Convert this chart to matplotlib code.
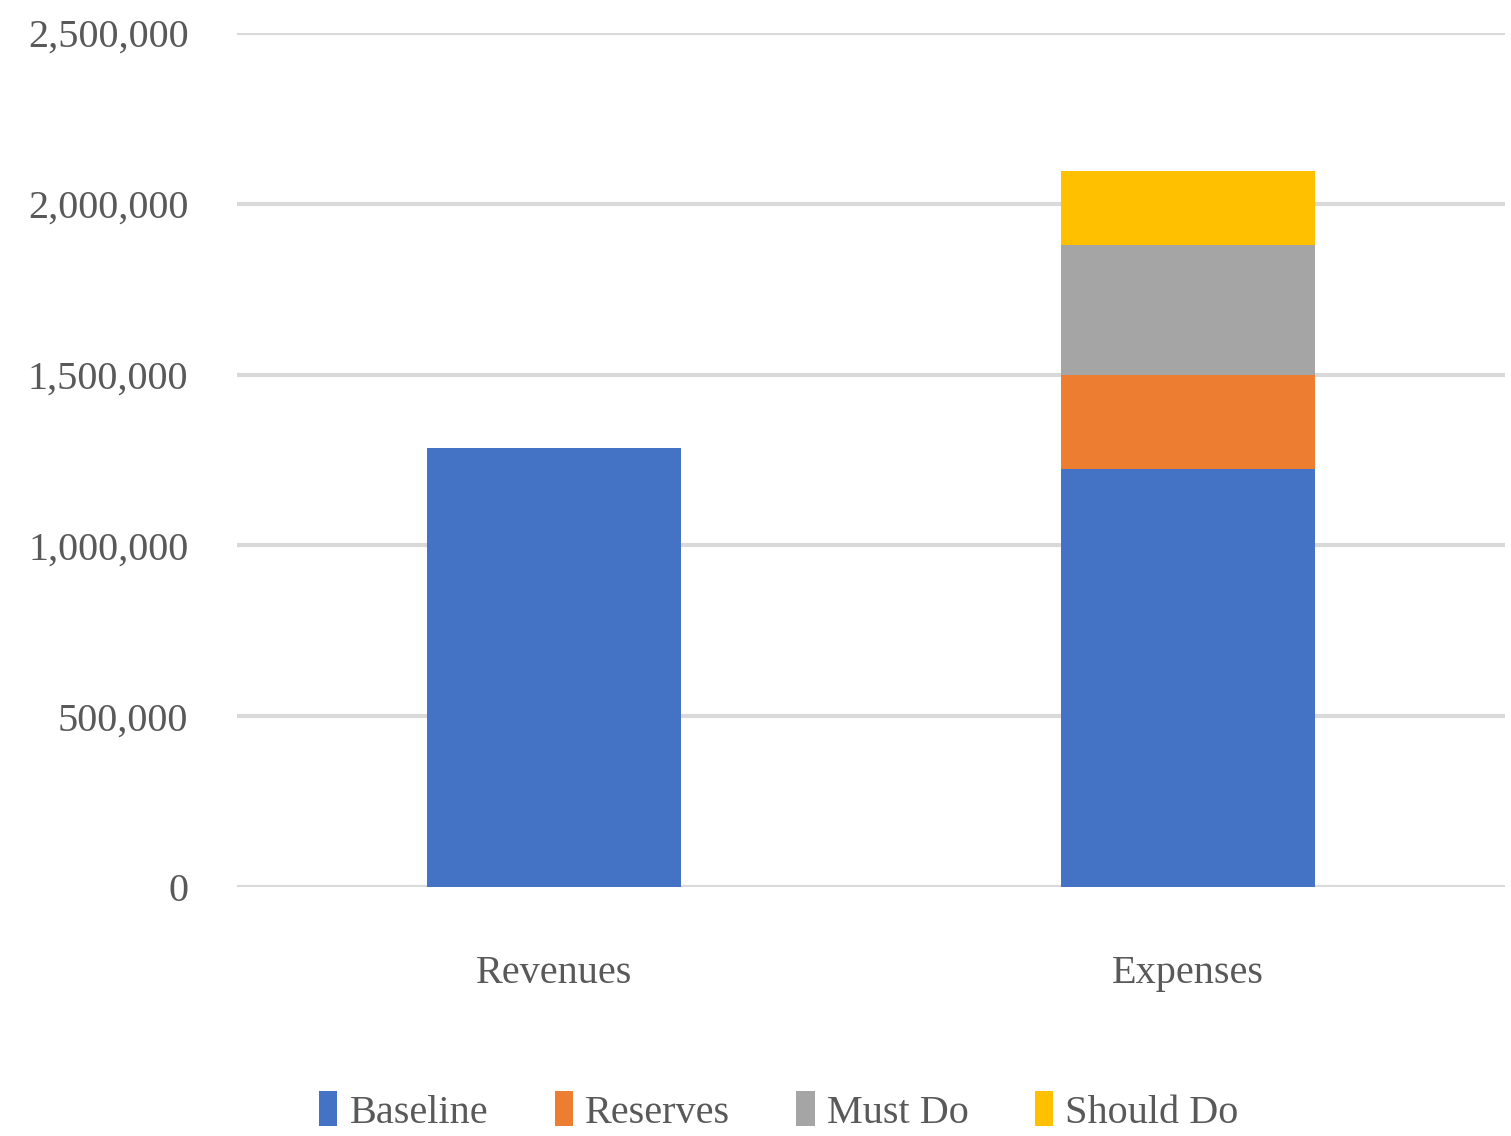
import numpy as np
import matplotlib
matplotlib.use('Agg')
from matplotlib import pyplot as plt

categories = ['Revenues', 'Expenses']
series_names = ['Baseline', 'Reserves', 'Must Do', 'Should Do']
baseline = [1285000, 1224000]
reserves = [0, 275000]
must_do = [0, 380000]
should_do = [0, 216000]
colors = ['#4472c4', '#ed7d31', '#a5a5a5', '#ffc000']
yticks = [0, 500000, 1000000, 1500000, 2000000, 2500000]

plt.rcParams['font.family'] = ['Liberation Serif', 'DejaVu Serif']
text_color = '#595959'

fig = plt.figure(figsize=(15.11, 11.36), dpi=100)
ax = fig.add_axes([237 / 1511, 1 - 887 / 1136, 1268 / 1511, (887 - 33) / 1136])

x = np.arange(len(categories))
bottom = np.zeros(len(categories))
for name, vals, c in zip(series_names, [baseline, reserves, must_do, should_do], colors):
    ax.bar(x, vals, width=0.4, bottom=bottom, color=c, label=name, zorder=3)
    bottom += np.array(vals)

ax.set_xlim(-0.5, 1.5)
ax.set_ylim(0, 2500000)
ax.set_yticks(yticks)
ax.set_yticklabels([f'{v:,}' for v in yticks])
ax.set_xticks(x)
ax.set_xticklabels(categories)
ax.yaxis.grid(True, color='#d9d9d9', linewidth=3, zorder=0)
ax.set_axisbelow(True)
for s in ax.spines.values():
    s.set_visible(False)
ax.tick_params(axis='both', length=0, labelsize=29, colors=text_color)
ax.tick_params(axis='y', pad=35)
ax.tick_params(axis='x', pad=49)

leg = fig.legend(loc='lower center', bbox_to_anchor=(0.5155, -0.028), ncol=4, frameon=False,
                 fontsize=29, handlelength=0.45, handleheight=0.95,
                 handletextpad=0.3, columnspacing=1.65)
for t in leg.get_texts():
    t.set_color(text_color)

fig.savefig('out.png', dpi=100)
